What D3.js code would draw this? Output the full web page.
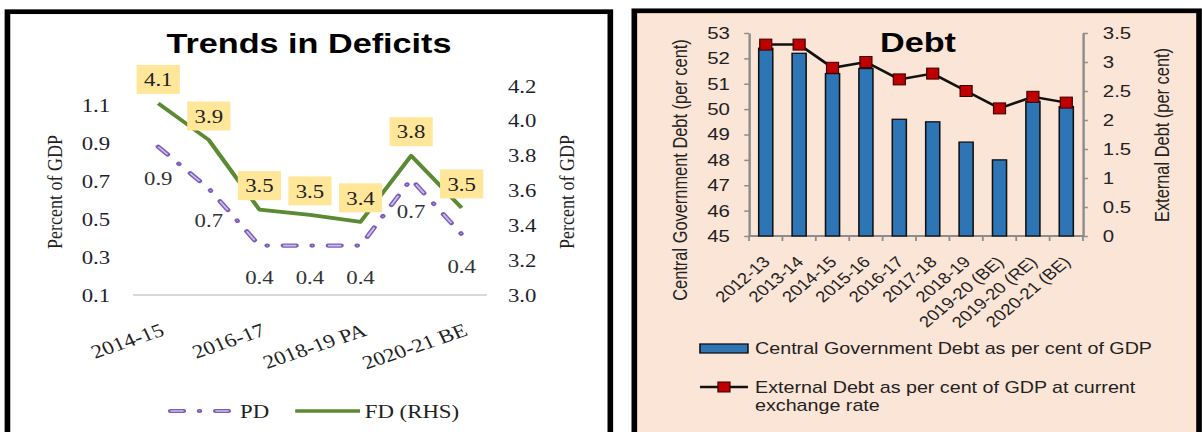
<!DOCTYPE html>
<html>
<head>
<meta charset="utf-8">
<script src="https://cdn.jsdelivr.net/npm/d3@7"></script>
<style>
  body { margin: 0; background: #fff; }
  svg { display: block; }
</style>
</head>
<body>
<div id="chart"></div>
<script>
// ---- data: trends in deficits (left) ----
var deficitYears = ["2014-15", "2015-16", "2016-17", "2017-18", "2018-19 PA", "2019-20 RE", "2020-21 BE"];
var pdValues = [0.88, 0.66, 0.36, 0.36, 0.36, 0.71, 0.42];
var fdValues = [4.1, 3.89, 3.49, 3.46, 3.42, 3.8, 3.5];
var deficitTickLabels = ["2014-15", "2016-17", "2018-19 PA", "2020-21 BE"];
var pdTicks = [0.1, 0.3, 0.5, 0.7, 0.9, 1.1];
var fdTicks = [3.0, 3.2, 3.4, 3.6, 3.8, 4.0, 4.2];

// ---- data: debt (right) ----
var debtYears = ["2012-13", "2013-14", "2014-15", "2015-16", "2016-17", "2017-18", "2018-19",
                 "2019-20 (BE)", "2019-20 (RE)", "2020-21 (BE)"];
var centralDebt = [52.4, 52.2, 51.4, 51.6, 49.6, 49.5, 48.7, 48.0, 50.3, 50.1];
var externalDebt = [3.3, 3.3, 2.9, 3.0, 2.7, 2.8, 2.5, 2.2, 2.4, 2.3];
var centralTicks = [45, 46, 47, 48, 49, 50, 51, 52, 53];
var externalTicks = [0, 0.5, 1, 1.5, 2, 2.5, 3, 3.5];

// the picture is stretched sideways, so draw in narrower units and scale x
var SX = 1.2;
var serif = "'Liberation Serif', 'Times New Roman', serif",
    sans = "'Liberation Sans', Arial, sans-serif";

var svg = d3.select("#chart").append("svg")
    .attr("width", 1202)
    .attr("height", 432);
var root = svg.append("g").attr("transform", "scale(" + SX + ",1)");

// ================= left panel =================
var left = root.append("g");
left.append("rect")
    .attr("x", 6.2).attr("y", 11.7)
    .attr("width", 502.4).attr("height", 440)
    .attr("fill", "#fff").attr("stroke", "#000").attr("stroke-width", 4.7);

left.append("text")
    .attr("x", 257.5).attr("y", 53)
    .attr("text-anchor", "middle")
    .style("font-family", sans).style("font-weight", "bold").style("font-size", "28.5px")
    .text("Trends in Deficits");

var xDef = d3.scaleBand().domain(deficitYears).range([110.8, 405.8]);
var cxDef = function(d) { return xDef(d) + xDef.bandwidth() / 2; };
var yPD = d3.scaleLinear().domain([0.1, 1.2]).range([295, 86]);
var yFD = d3.scaleLinear().domain([3.0, 4.2]).range([295, 86]);

// axis labels
var pdAxis = left.append("g")
    .attr("transform", "translate(110.8,0)")
    .call(d3.axisLeft(yPD).tickValues(pdTicks).tickFormat(d3.format(".1f")).tickSize(0).tickPadding(19));
var fdAxis = left.append("g")
    .attr("transform", "translate(405.8,0)")
    .call(d3.axisRight(yFD).tickValues(fdTicks).tickFormat(d3.format(".1f")).tickSize(0).tickPadding(17.5));
[pdAxis, fdAxis].forEach(function(a) {
    a.select(".domain").remove();
    a.selectAll("text")
        .style("font-family", serif).style("font-size", "19px").attr("fill", "#1f1f2e");
});

// x axis line
left.append("line")
    .attr("x1", xDef.range()[0]).attr("x2", xDef.range()[1])
    .attr("y1", yPD(0.1)).attr("y2", yPD(0.1))
    .attr("stroke", "#d9d9d9").attr("stroke-width", 2);

left.selectAll(".xlab")
    .data(deficitTickLabels)
    .enter()
    .append("text")
        .attr("transform", function(d) { return "translate(" + (cxDef(d) + 6) + ",335) rotate(-22)"; })
        .attr("text-anchor", "end")
        .style("font-family", serif).style("font-size", "19px").attr("fill", "#222")
        .text(function(d) { return d; });

// axis titles
[[45, "Percent of GDP"], [471.7, "Percent of GDP"]].forEach(function(t) {
    left.append("text")
        .attr("transform", "translate(" + t[0] + ",192) rotate(-90)")
        .attr("text-anchor", "middle").attr("dy", "0.35em")
        .style("font-family", serif).style("font-size", "18px").attr("fill", "#222")
        .text(t[1]);
});

// FD line
var fdLine = d3.line()
    .x(function(d, i) { return cxDef(deficitYears[i]); })
    .y(function(d) { return yFD(d); });
left.append("path")
    .datum(fdValues)
    .attr("d", fdLine)
    .attr("fill", "none").attr("stroke", "#5a8a32").attr("stroke-width", 3.6)
    .attr("stroke-linejoin", "round");

// PD line (dash-dot, outlined dashes)
var pdLine = d3.line()
    .x(function(d, i) { return cxDef(deficitYears[i]); })
    .y(function(d) { return yPD(d); });
var pdDash = "11,13,0.5,13";
left.append("path")
    .datum(pdValues)
    .attr("d", pdLine)
    .attr("fill", "none").attr("stroke", "#7d5cb8").attr("stroke-width", 4.2)
    .attr("stroke-linecap", "round").attr("stroke-dasharray", pdDash);
left.append("path")
    .datum(pdValues)
    .attr("d", pdLine)
    .attr("fill", "none").attr("stroke", "#cdbde9").attr("stroke-width", 1.6)
    .attr("stroke-dasharray", pdDash);

// FD labels in yellow boxes
var fdLab = left.selectAll(".fdlab")
    .data(fdValues)
    .enter()
    .append("g")
        .attr("transform", function(d, i) {
            return "translate(" + cxDef(deficitYears[i]) + "," + (yFD(d) - 24) + ")";
        });
fdLab.append("rect")
    .attr("x", -18).attr("y", -14.5).attr("width", 36).attr("height", 29)
    .attr("fill", "#ffe699");
fdLab.append("text")
    .attr("text-anchor", "middle").attr("dy", "0.35em")
    .style("font-family", serif).style("font-size", "19px").attr("fill", "#222")
    .text(function(d) { return d3.format(".1f")(d); });

// PD labels
left.selectAll(".pdlab")
    .data(pdValues)
    .enter()
    .append("text")
        .attr("x", function(d, i) { return cxDef(deficitYears[i]); })
        .attr("y", function(d) { return yPD(d) + 32; })
        .attr("text-anchor", "middle").attr("dy", "0.35em")
        .style("font-family", serif).style("font-size", "19px").attr("fill", "#333")
        .text(function(d) { return d3.format(".1f")(d); });

// legend
var legY = 411;
left.append("line")
    .attr("x1", 142).attr("x2", 191).attr("y1", legY).attr("y2", legY)
    .attr("stroke", "#7d5cb8").attr("stroke-width", 4.2)
    .attr("stroke-linecap", "round").attr("stroke-dasharray", pdDash);
left.append("line")
    .attr("x1", 142).attr("x2", 191).attr("y1", legY).attr("y2", legY)
    .attr("stroke", "#cdbde9").attr("stroke-width", 1.6).attr("stroke-dasharray", pdDash);
left.append("text")
    .attr("x", 200).attr("y", legY).attr("dy", "0.35em")
    .style("font-family", serif).style("font-size", "19px").attr("fill", "#222")
    .text("PD");
left.append("line")
    .attr("x1", 246).attr("x2", 300).attr("y1", legY).attr("y2", legY)
    .attr("stroke", "#5a8a32").attr("stroke-width", 3.6);
left.append("text")
    .attr("x", 304).attr("y", legY).attr("dy", "0.35em")
    .style("font-family", serif).style("font-size", "19px").attr("fill", "#222")
    .text("FD (RHS)");

// ================= right panel =================
var right = root.append("g");
right.append("rect")
    .attr("x", 528.6).attr("y", 10.8)
    .attr("width", 470.6).attr("height", 440)
    .attr("fill", "#fbe5d6").attr("stroke", "#000").attr("stroke-width", 4.7);

var xDebt = d3.scaleBand().domain(debtYears).range([624.2, 902.5]);
var cxDebt = function(d) { return xDebt(d) + xDebt.bandwidth() / 2; };
var yCentral = d3.scaleLinear().domain([45, 53]).range([236, 33]);
var yExternal = d3.scaleLinear().domain([0, 3.5]).range([236, 33]);
var axisGrey = "#8c8c8c";

var cAxis = right.append("g")
    .attr("transform", "translate(624.2,0)")
    .call(d3.axisLeft(yCentral).tickValues(centralTicks).tickSize(4).tickSizeOuter(0).tickPadding(12));
var eAxis = right.append("g")
    .attr("transform", "translate(902.5,0)")
    .call(d3.axisRight(yExternal).tickValues(externalTicks).tickFormat(d3.format("~g"))
        .tickSize(4).tickSizeOuter(0).tickPadding(12.5));
[cAxis, eAxis].forEach(function(a) {
    a.select(".domain").attr("stroke", axisGrey).attr("stroke-width", 2);
    a.selectAll(".tick line").attr("stroke", axisGrey).attr("stroke-width", 1.5);
    a.selectAll("text")
        .style("font-family", sans).style("font-size", "17px").attr("fill", "#222");
});

// x axis with ticks between categories
right.append("line")
    .attr("x1", xDebt.range()[0]).attr("x2", xDebt.range()[1])
    .attr("y1", 236).attr("y2", 236)
    .attr("stroke", axisGrey).attr("stroke-width", 2);
right.selectAll(".xtick")
    .data(debtYears.map(function(d) { return xDebt(d); }).concat([xDebt.range()[1]]))
    .enter()
    .append("line")
        .attr("x1", function(d) { return d; }).attr("x2", function(d) { return d; })
        .attr("y1", 236).attr("y2", 241)
        .attr("stroke", axisGrey).attr("stroke-width", 1.5);

right.selectAll(".xlab")
    .data(debtYears)
    .enter()
    .append("text")
        .attr("transform", function(d) { return "translate(" + (cxDebt(d) + 4.5) + ",263) rotate(-45)"; })
        .attr("text-anchor", "end")
        .style("font-family", sans).style("font-size", "15.5px").attr("fill", "#222")
        .text(function(d) { return d; });

// bars
var barW = 11.7;
right.selectAll(".bar")
    .data(centralDebt)
    .enter()
    .append("rect")
        .attr("x", function(d, i) { return cxDebt(debtYears[i]) - barW / 2; })
        .attr("y", function(d) { return yCentral(d); })
        .attr("width", barW)
        .attr("height", function(d) { return yCentral(45) - yCentral(d); })
        .attr("fill", "#2e75b6").attr("stroke", "#111").attr("stroke-width", 1.3);

// external debt line with square markers
var extLine = d3.line()
    .x(function(d, i) { return cxDebt(debtYears[i]); })
    .y(function(d) { return yExternal(d); });
right.append("path")
    .datum(externalDebt)
    .attr("d", extLine)
    .attr("fill", "none").attr("stroke", "#111").attr("stroke-width", 2.5);
right.selectAll(".mark")
    .data(externalDebt)
    .enter()
    .append("rect")
        .attr("x", function(d, i) { return cxDebt(debtYears[i]) - 5; })
        .attr("y", function(d) { return yExternal(d) - 5.5; })
        .attr("width", 10).attr("height", 11)
        .attr("fill", "#c00000").attr("stroke", "#3a0000").attr("stroke-width", 1);

// titles
right.append("text")
    .attr("x", 765).attr("y", 52)
    .attr("text-anchor", "middle")
    .style("font-family", sans).style("font-weight", "bold").style("font-size", "28.5px")
    .text("Debt");
right.append("text")
    .attr("transform", "translate(566.7,170) rotate(-90)")
    .attr("text-anchor", "middle").attr("dy", "0.35em")
    .style("font-family", sans).style("font-size", "16.4px").attr("fill", "#222")
    .text("Central Government Debt (per cent)");
right.append("text")
    .attr("transform", "translate(968.3,135) rotate(-90)")
    .attr("text-anchor", "middle").attr("dy", "0.35em")
    .style("font-family", sans).style("font-size", "16.4px").attr("fill", "#222")
    .text("External Debt (per cent)");

// legend
right.append("rect")
    .attr("x", 583.3).attr("y", 344).attr("width", 40).attr("height", 9)
    .attr("fill", "#2e75b6").attr("stroke", "#111").attr("stroke-width", 1.3);
right.append("text")
    .attr("x", 629.2).attr("y", 348.5).attr("dy", "0.35em")
    .style("font-family", sans).style("font-size", "16.4px").attr("fill", "#222")
    .text("Central Government Debt as per cent of GDP");
right.append("line")
    .attr("x1", 583.3).attr("x2", 623.3).attr("y1", 387).attr("y2", 387)
    .attr("stroke", "#111").attr("stroke-width", 2.5);
right.append("rect")
    .attr("x", 598.3).attr("y", 382).attr("width", 10).attr("height", 10)
    .attr("fill", "#c00000").attr("stroke", "#3a0000").attr("stroke-width", 1);
var extLeg = right.append("text")
    .attr("x", 629.2).attr("y", 387).attr("dy", "0.35em")
    .style("font-family", sans).style("font-size", "16.4px").attr("fill", "#222");
extLeg.append("tspan").text("External Debt as per cent of GDP at current");
extLeg.append("tspan").attr("x", 629.2).attr("dy", "1.1em").text("exchange rate");
</script>
</body>
</html>
